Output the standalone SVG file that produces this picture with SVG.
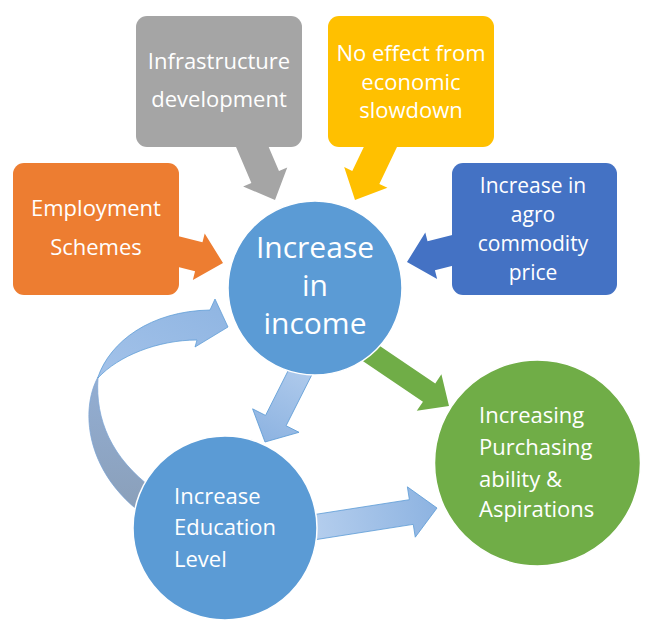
<svg xmlns="http://www.w3.org/2000/svg" width="647" height="628" viewBox="0 0 647 628">
<defs>
<linearGradient id="gLight" x1="0" y1="0" x2="1" y2="0">
<stop offset="0" stop-color="#b6cfee"/>
<stop offset="1" stop-color="#8db3e1"/>
</linearGradient>
<linearGradient id="gFace" x1="0" y1="1" x2="1" y2="0">
<stop offset="0" stop-color="#a3c2e9"/>
<stop offset="1" stop-color="#8fb5e2"/>
</linearGradient>
<linearGradient id="gBack" x1="0" y1="0" x2="0" y2="1">
<stop offset="0" stop-color="#93aed3"/>
<stop offset="1" stop-color="#8a9fb9"/>
</linearGradient>
<polygon id="arrWide" points="-75,-15 -25,-15 -25,-24 0,0 -25,24 -25,15 -75,15"/>
</defs>
<style>
.box{stroke:none}
.t{font-family:"Open Sans","Noto Sans",sans-serif;font-size:22px;fill:#ffffff;text-anchor:middle}
.ts{font-family:"Open Sans","Noto Sans",sans-serif;font-size:21px;fill:#ffffff;text-anchor:middle}
.tl{font-family:"Open Sans","Noto Sans",sans-serif;font-size:22px;fill:#ffffff;text-anchor:start}
.tc{font-family:"Open Sans","Noto Sans",sans-serif;font-size:30px;fill:#ffffff;text-anchor:middle}
.circ{stroke:#ffffff;stroke-width:1.5}
.la{fill:url(#gLight);stroke:#5b9bd5;stroke-width:0.75}
</style>
<rect width="647" height="628" fill="#ffffff"/>
<g id="connectors">
<use href="#arrWide" fill="#a5a5a5" transform="translate(275,200) rotate(66.9)"/>
<use href="#arrWide" fill="#ffc000" transform="translate(355,200) rotate(115.6)"/>
<use href="#arrWide" fill="#ed7d31" transform="translate(223,263) rotate(14.3)"/>
<use href="#arrWide" fill="#4472c4" transform="translate(407,262) rotate(165.7)"/>
<polygon fill="#70ad47" points="-110,-11 -24,-11 -24,-22 0,0 -24,22 -24,11 -110,11" transform="translate(449,406) rotate(34)"/>
<polygon class="la" points="-100,-11.5 -24,-11.5 -24,-26 0,0 -24,26 -24,11.5 -100,11.5" transform="translate(265,442) rotate(116.8)"/>
<polygon class="la" points="-130,-12.5 -26,-12.5 -26,-25.5 0,0 -26,25.5 -26,12.5 -130,12.5" transform="translate(437,508) rotate(-8.9)"/>
<path d="M 98,377 C 80,410 86,470 140,512 L 152,488 C 112,458 95,420 98,378 Z" fill="url(#gBack)" stroke="#7ea6d6" stroke-width="0.75"/>
<path d="M 98,377 C 110,342 150,311 210,310 L 215,299 L 228,327 L 195,347 L 197,340 C 158,340 118,356 98,378 Z" fill="url(#gFace)" stroke="#5b9bd5" stroke-width="0.75"/>
</g>
<g id="employment">
<rect class="box" x="13" y="163" width="166" height="132" rx="11" fill="#ed7d31"/>
<text class="t" x="96" y="216">Employment</text>
<text class="t" x="96" y="255">Schemes</text>
</g>
<g id="infrastructure">
<rect class="box" x="136" y="16" width="166" height="131" rx="11" fill="#a5a5a5"/>
<text class="t" x="219" y="69">Infrastructure</text>
<text class="t" x="219" y="107">development</text>
</g>
<g id="noeffect">
<rect class="box" x="328" y="16" width="166" height="131" rx="11" fill="#ffc000"/>
<text class="t" x="411" y="61">No effect from</text>
<text class="t" x="411" y="90">economic</text>
<text class="t" x="411" y="118">slowdown</text>
</g>
<g id="agro">
<rect class="box" x="452" y="163" width="165" height="132" rx="11" fill="#4472c4"/>
<text class="ts" x="533" y="193">Increase in</text>
<text class="ts" x="533" y="222">agro</text>
<text class="ts" x="533" y="250.5">commodity</text>
<text class="ts" x="533" y="279.5">price</text>
</g>
<g id="income">
<circle class="circ" cx="315" cy="288" r="87" fill="#5b9bd5"/>
<text class="tc" x="315" y="258">Increase</text>
<text class="tc" x="315" y="296">in</text>
<text class="tc" x="315" y="334">income</text>
</g>
<g id="education">
<circle class="circ" cx="225" cy="528" r="92" fill="#5b9bd5"/>
<text class="tl" x="174" y="504">Increase</text>
<text class="tl" x="174" y="535">Education</text>
<text class="tl" x="174" y="567">Level</text>
</g>
<g id="purchasing">
<circle class="circ" cx="537.5" cy="463" r="103" fill="#70ad47"/>
<text class="tl" x="479" y="423">Increasing</text>
<text class="tl" x="479" y="455">Purchasing</text>
<text class="tl" x="479" y="487">ability &amp;</text>
<text class="tl" x="479" y="517">Aspirations</text>
</g>
</svg>
